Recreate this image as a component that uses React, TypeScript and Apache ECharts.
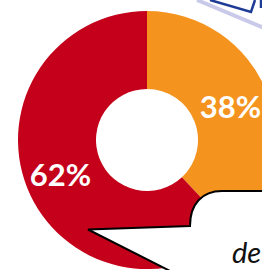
import React, { useEffect, useRef } from "react";
import * as echarts from "echarts";

const categories = ["A", "B"];
const values = [38, 62];
const colors = ["#F5931F", "#C4001A"];
const labels = ["38%", "62%"];
const bubbleText = "de";

export default function App() {
  const ref = useRef<HTMLDivElement>(null);
  useEffect(() => {
    if (!ref.current) return;
    echarts.graphic.registerShape(
      "bubble",
      echarts.graphic.extendPath(
        "M 264 191 L 222 191 C 202 191 190 204 190 226 L 88 229.5 L 176 274 L 264 274 Z",
        {}
      )
    );
    const chart = echarts.init(ref.current, null, { renderer: "svg" });
    chart.setOption({
      animation: false,
      backgroundColor: "#ffffff",
      series: [
        {
          type: "pie",
          center: [147, 140],
          radius: [51, 129],
          startAngle: 90,
          clockwise: true,
          silent: true,
          itemStyle: { borderWidth: 0 },
          label: {
            show: true,
            position: "inside",
            color: "#ffffff",
            fontFamily: "Lato",
            fontWeight: "bold",
            fontSize: 31,
            formatter: (p: any) => labels[p.dataIndex],
          },
          labelLine: { show: false },
          data: categories.map((c, i) => ({
            name: c,
            value: values[i],
            itemStyle: { color: colors[i] },
            label: i === 0 ? { padding: [0, 6, 0, 0] } : {},
          })),
        },
      ],
      graphic: [
        {
          type: "line",
          z: 10,
          shape: { x1: 197, y1: 0, x2: 264, y2: 28 },
          style: { stroke: "#c9c9ea", lineWidth: 4 },
        },
        {
          type: "polyline",
          z: 11,
          shape: { points: [[210, 0], [251, 12], [255, 0]] },
          style: { stroke: "#1e3c96", lineWidth: 2.5, fill: null },
        },
        {
          type: "line",
          z: 11,
          shape: { x1: 261, y1: 0, x2: 261, y2: 8 },
          style: { stroke: "#1e3c96", lineWidth: 2.5 },
        },
        {
          type: "bubble",
          z: 10,
          style: { fill: "#ffffff", stroke: "#000000", lineWidth: 2 },
        },
        {
          type: "text",
          z: 12,
          x: 232,
          y: 237,
          style: {
            text: bubbleText,
            font: "italic 29px Lato",
            fill: "#111111",
            verticalAlign: "top",
          },
        },
      ],
    });
    return () => chart.dispose();
  }, []);
  return (
    <div
      ref={ref}
      style={{ position: "fixed", left: 0, top: 0, width: 262, height: 270 }}
    />
  );
}
